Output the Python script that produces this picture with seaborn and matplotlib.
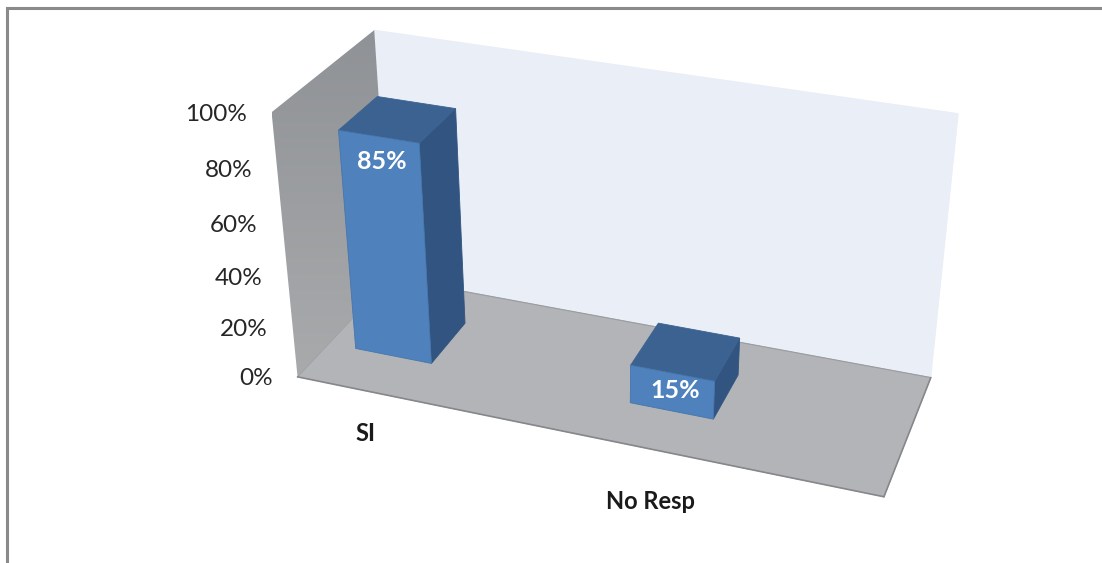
import numpy as np
import pandas as pd
import seaborn as sns
import matplotlib
matplotlib.use("Agg")
import matplotlib.pyplot as plt
from matplotlib.patches import Polygon, Rectangle
from matplotlib.transforms import Transform

categories = ["SI", "No Resp"]
values = [85, 15]
value_labels = ["85%", "15%"]
tick_values = [0, 20, 40, 60, 80, 100]
tick_labels = ["0%", "20%", "40%", "60%", "80%", "100%"]

sns.set_theme(style="white")
plt.rcParams["font.family"] = ["Lato", "DejaVu Sans"]

# camera calibration: unit box corners -> image pixels
box = [(0,0,0),(1,0,0),(0,1,0),(1,1,0),(0,0,1),(0,1,1),(1,1,1)]
pix = [(298,375),(884,498),(390,280),(931,376),(271,113),(375,29),(958,114)]
A = []
for (x,y,z),(u,v) in zip(box,pix):
    A.append([x,y,z,1,0,0,0,0,-u*x,-u*y,-u*z,-u])
    A.append([0,0,0,0,x,y,z,1,-v*x,-v*y,-v*z,-v])
P = np.linalg.svd(np.array(A,float))[2][-1].reshape(3,4)

def project(x,y,z):
    h = P @ np.array([x,y,z,1.0])
    return h[:2]/h[2]

X_OFFSET, X_SCALE = 0.122, 0.5   # category position -> wall fraction
D0, D1 = 0.32, 0.715             # bar depth range

def wx(pos):
    return X_OFFSET + X_SCALE*pos

class FrontPlane(Transform):
    """Maps (category position, percent) onto the plane of the bars' front faces."""
    input_dims = output_dims = 2
    is_affine = False
    has_inverse = False
    def transform_non_affine(self, values):
        values = np.asarray(values, float)
        return np.array([project(wx(a), D0, b/100) for a,b in values])

fig = plt.figure(figsize=(11.02,5.63),dpi=100,facecolor="white")
ax = fig.add_axes([0,0,1,1])
df = pd.DataFrame({"category":categories,"value":values})
sns.barplot(data=df,x="category",y="value",color="#4f81bd",saturation=1,width=0.285,ax=ax,zorder=5)
ax.set_xlim(0,1102); ax.set_ylim(563,0); ax.set_axis_off()
ax.set_autoscale_on(False)

def face(corners,color,z):
    ax.add_patch(Polygon([project(*c) for c in corners],closed=True,facecolor=color,
                         edgecolor=color,linewidth=0.6,zorder=z))

def edge(a,b,color,lw,z):
    pa,pb = project(*a),project(*b)
    ax.plot([pa[0],pb[0]],[pa[1],pb[1]],color=color,lw=lw,zorder=z)

# walls and floor
face([(0,1,0),(1,1,0),(1,1,1),(0,1,1)],"#e9eef7",1)
face([(0,0,0),(1,0,0),(1,1,0),(0,1,0)],"#b2b4b8",2)
edge((0,0,0),(1,0,0),"#85878a",1.2,2.5)
edge((1,0,0),(1,1,0),"#85878a",1.2,2.5)
edge((0,1,0),(1,1,0),"#9a9ca0",0.8,2.4)
edge((0,0,0),(0,1,0),"#9fa1a4",0.8,2.4)
# left wall with vertical gradient
wall = np.array([project(*c) for c in [(0,0,0),(0,1,0),(0,1,1),(0,0,1)]])
grad = np.linspace(0,1,64)[:,None]
cmap = matplotlib.colors.LinearSegmentedColormap.from_list("w",["#8f9296","#a9aaac"])
im = ax.imshow(grad,cmap=cmap,extent=(wall[:,0].min(),wall[:,0].max(),wall[:,1].max(),wall[:,1].min()),
               aspect="auto",zorder=1.5)
im.set_clip_path(Polygon(wall,closed=True,transform=ax.transData))
ax.set_xlim(0,1102); ax.set_ylim(563,0)

# bars: front faces come from seaborn, side and top from the same values
front = FrontPlane()+ax.transData
bars = [p for p in ax.patches if isinstance(p,Rectangle)]
for rect in bars:
    rect.set_transform(front)
    rect.set_clip_on(False)
    rect.set_edgecolor("#4676ad"); rect.set_linewidth(0.6)
    x0,x1 = wx(rect.get_x()),wx(rect.get_x()+rect.get_width())
    top = rect.get_height()/100
    face([(x1,D0,0),(x1,D1,0),(x1,D1,top),(x1,D0,top)],"#315480",4)
    face([(x0,D0,top),(x1,D0,top),(x1,D1,top),(x0,D1,top)],"#3b6290",4)

# value labels
label_dy = [25,17]
for rect,txt,dy in zip(bars,value_labels,label_dy):
    c = rect.get_x()+rect.get_width()/2
    pt = project(wx(c),D0,rect.get_height()/100)
    ax.text(pt[0]+3,pt[1]+dy,txt,color="white",fontsize=18,fontweight="bold",ha="center",va="center",zorder=6)

# axis tick labels
for v,t in zip(tick_values,tick_labels):
    pt = project(0,0,v/100)
    ax.text(pt[0]-25,pt[1]+2,t,color="#262626",fontsize=17.5,ha="right",va="center",zorder=6)

# category labels
for rect,t,off in zip(bars,categories,[(-68,29),(-76,37)]):
    c = rect.get_x()+rect.get_width()/2
    pt = project((c+0.5)/2,0,0)
    ax.text(pt[0]+off[0],pt[1]+off[1],t,color="#1a1a1a",fontsize=17,fontweight="bold",ha="center",va="center",zorder=6)

# picture frame
ax.plot([7,7,1102],[563,8,8],color="#8a8a8a",lw=2.2,solid_joinstyle="miter",zorder=7,clip_on=False)

fig.savefig("out.png",dpi=100)
